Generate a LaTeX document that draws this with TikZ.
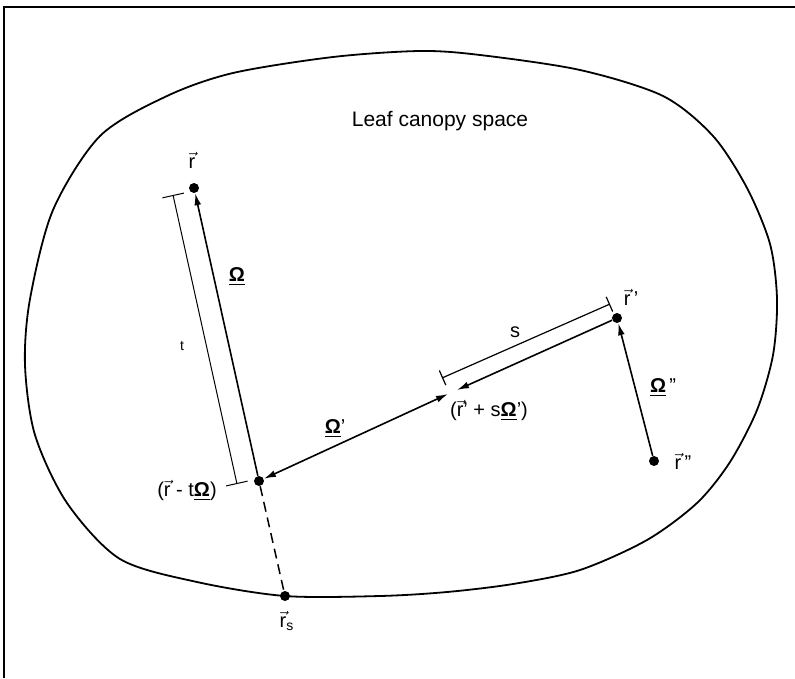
\documentclass[tikz,border=0pt]{standalone}
\usepackage{amsmath}
\usepackage{fontspec}
\setmainfont{Liberation Sans}
\usepackage{tikz}
\usetikzlibrary{arrows.meta}
\newcommand{\vecr}{\ensuremath{\vec{\text{r}}}}
\newcommand{\ulOmega}{\underline{\textbf{Ω}}}

\begin{document}
\begin{tikzpicture}[
  x=0.5pt, y=-0.5pt,
  font=\normalsize,
  dot/.style={circle, fill, inner sep=0pt, minimum size=5pt},
  lbl/.style={inner sep=1pt},
  arr/.style={-{Latex[length=6pt,width=3.4pt]}, line width=0.8pt},
  twoarr/.style={{Latex[length=6pt,width=3.4pt]}-{Latex[length=6pt,width=3.4pt]}, line width=0.8pt},
  dimline/.style={{Bar[width=11pt]}-{Bar[width=11pt]}, line width=0.5pt},
  dimshort/.style={{Bar[width=8pt]}-{Bar[width=8pt]}, line width=0.6pt}
]
\useasboundingbox (0,0) rectangle (795,678);
\draw[line width=0.6pt] (4,678) -- (4,7) -- (795,7);
\draw[line width=0.9pt] plot[smooth cycle] coordinates {
  (420,51) (333,57) (233,73) (167,96) (100,136) (53,210) (30,299) (25,365)
  (35,435) (67,503) (120,559) (197,582) (285,596) (380,596) (447,592)
  (513,584) (580,570) (647,540) (697,503) (730,462) (757,410) (773,355)
  (777,299) (770,244) (747,188) (713,136) (663,96) (580,70) (480,55)};
\node[font=\fontsize{10.5}{12}\selectfont] (title) at (440,121) {Leaf canopy space};
\node[dot] (r) at (194,188) {};
\node[dot] (rt) at (259,481) {};
\node[dot] (rs) at (285,596) {};
\node[dot] (rp) at (617,318) {};
\node[dot] (rpp) at (654,461) {};
\coordinate (pa) at (448,394);
\coordinate (pb) at (457,390);
\coordinate (ta) at (173,195);
\coordinate (tb) at (237,484);
\coordinate (sa) at (442,378);
\coordinate (sb) at (610,304);
\draw[arr] (rt) -- (r);
\draw[twoarr] (rt) -- (pa);
\draw[arr] (rp) -- (pb);
\draw[arr] (rpp) -- (rp);
\draw[line width=0.75pt, dash pattern=on 5pt off 3pt] (rt) -- (rs);
\draw[dimline] (ta) -- (tb);
\draw[dimshort] (sa) -- (sb);
\node[lbl] (rlbl) at (192,160) {\vecr};
\node[lbl] (omega) at (237,277) {\ulOmega};
\node[lbl, font=\scriptsize] (tlbl) at (182,346) {t};
\node[lbl] (rtlbl) at (187,490) {(\vecr\ - t\ulOmega)};
\node[lbl] (omegap) at (335,429) {\ulOmega'};
\node[lbl] (rslbl) at (287,621) {\vecr$_{\text{s}}$};
\node[lbl] (slbl) at (515,332) {s};
\node[lbl] (pslbl) at (489,410) {(\vecr' + s\ulOmega')};
\node[lbl] (rplbl) at (631,297) {\vecr\,'};
\node[lbl] (omegapp) at (663,388) {\ulOmega\,''};
\node[lbl] (rpplbl) at (683,461) {\vecr\,''};
\end{tikzpicture}
\end{document}
